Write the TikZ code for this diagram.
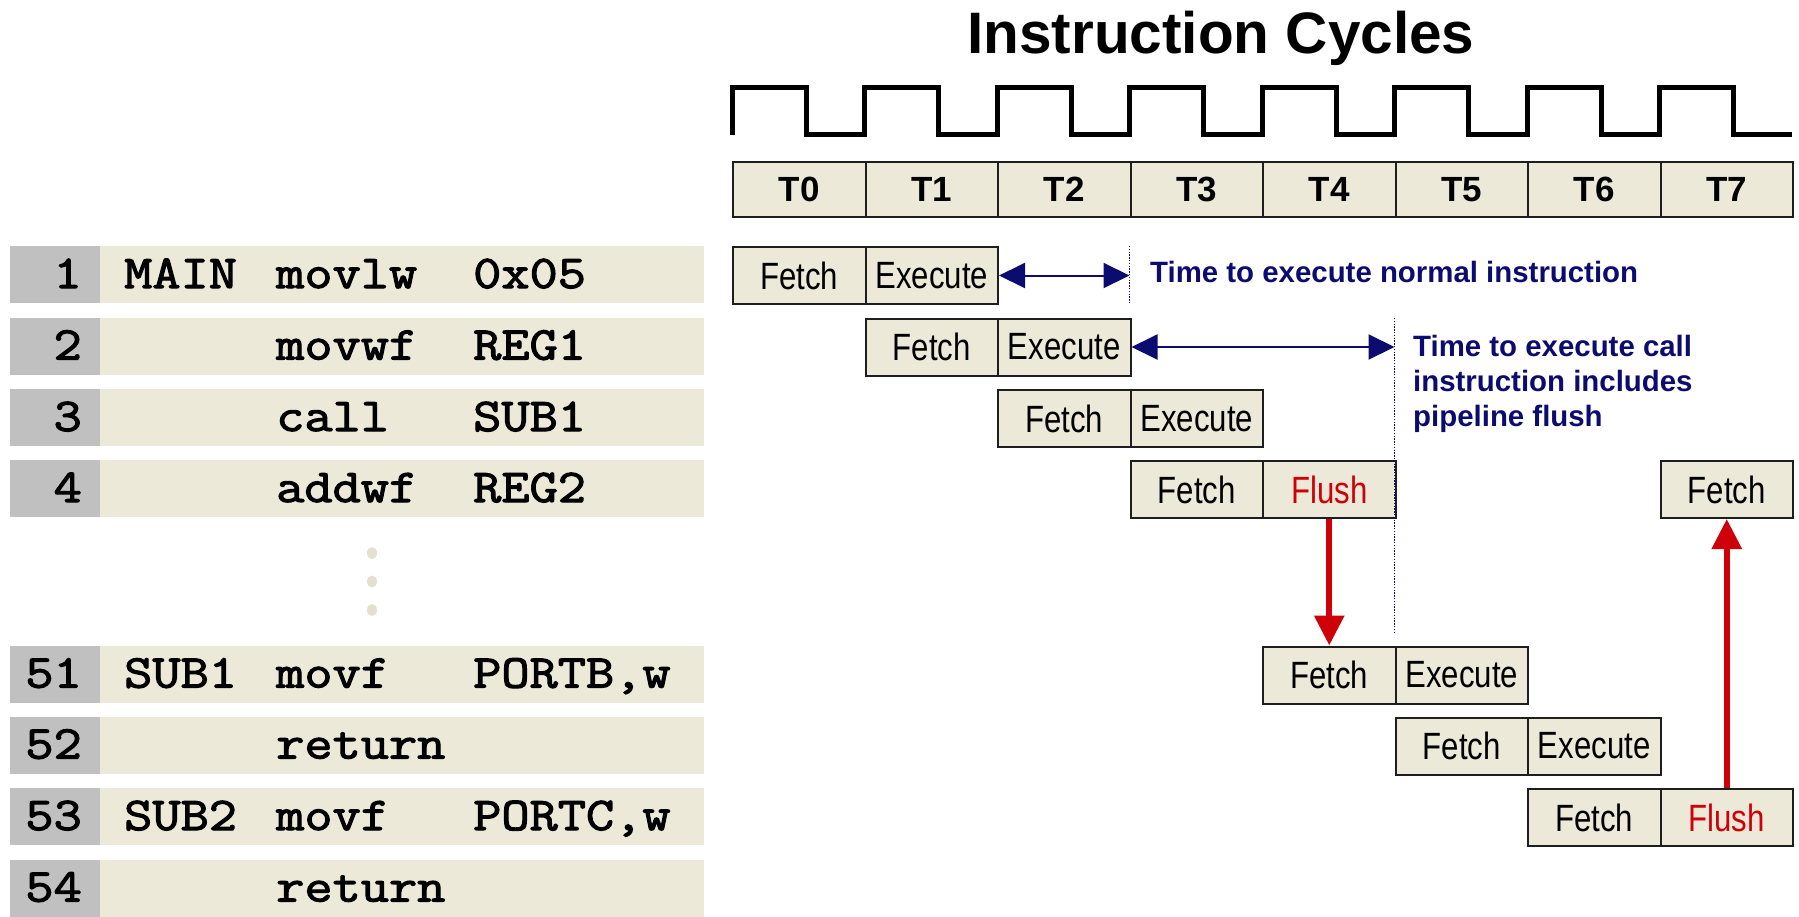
\documentclass[tikz,border=0pt]{standalone}
\usepackage{fontspec}
\setmainfont{Liberation Sans}
\newfontfamily\cellfont[FakeStretch=0.82]{Liberation Sans}
\newfontfamily\codefont[FakeBold=2.4,FakeStretch=1.165]{Latin Modern Mono}
\usetikzlibrary{arrows.meta}

\definecolor{beige}{RGB}{236,233,216}
\definecolor{linecol}{RGB}{192,192,192}
\definecolor{dotcol}{RGB}{228,224,206}
\definecolor{navy}{RGB}{12,12,112}
\definecolor{flushred}{RGB}{206,0,10}
\definecolor{edge}{RGB}{30,30,30}

\begin{document}
\begin{tikzpicture}[x=1pt,y=-1pt,
  cell/.style={draw=edge, line width=2pt, fill=beige, minimum width=132.5pt,
    minimum height=57pt, inner sep=0pt, anchor=north west,
    font=\cellfont\fontsize{38}{40}\selectfont},
  tcell/.style={cell, minimum height=55pt, font=\bfseries\fontsize{35}{38}\selectfont},
  flush/.style={cell, text=flushred},
  asm/.style={inner sep=0pt, font=\codefont\fontsize{47}{50}\selectfont},
  note/.style={inner sep=0pt, anchor=base west, text=navy,
    font=\bfseries\fontsize{29.4}{34}\selectfont},
  clock/.style={line width=5pt, line join=miter},
  span/.style={navy, line width=2pt, {Triangle[length=26pt,width=25pt]}-{Triangle[length=26pt,width=25pt]}},
  limit/.style={navy, line width=1.4pt, dash pattern=on 1.4pt off 1.4pt},
  jump/.style={flushred, line width=6pt, -{Triangle[length=30pt,width=29pt]}}
]
\useasboundingbox (0,0) rectangle (1799,916);

% title
\node[inner sep=0pt, anchor=base, font=\bfseries\fontsize{58.5}{62}\selectfont]
  (title) at (1221,53.3) {Instruction Cycles};

% clock waveform
\draw[clock] (732,134.5) \foreach \k in {0,...,7} {
  -- (732+\k*132.5,87.5) -- (806+\k*132.5,87.5)
  -- (806+\k*132.5,134.5) -- (864.5+\k*132.5,134.5) };

% cycle labels
\foreach \i in {0,...,7}
  \node[tcell] (t\i) at (732+\i*132.5,161) {T\i};

% program listing
\foreach \y in {246,317.5,389,460,645.5,716.5,788,859.5} {
  \fill[beige] (10,\y) rectangle (704,\y+57);
  \fill[linecol] (10,\y) rectangle (100,\y+57);
}
\node[asm, anchor=base east] (l1) at (82,288) {1};
\node[asm, anchor=base west] (lab1) at (124,288) {MAIN};
\node[asm, anchor=base west] (op1) at (276,288) {movlw};
\node[asm, anchor=base west] (arg1) at (473,288) {0x05};

\node[asm, anchor=base east] (l2) at (82,359.5) {2};
\node[asm, anchor=base west] (op2) at (276,359.5) {movwf};
\node[asm, anchor=base west] (arg2) at (473,359.5) {REG1};

\node[asm, anchor=base east] (l3) at (82,431) {3};
\node[asm, anchor=base west] (op3) at (276,431) {call};
\node[asm, anchor=base west] (arg3) at (473,431) {SUB1};

\node[asm, anchor=base east] (l4) at (82,502) {4};
\node[asm, anchor=base west] (op4) at (276,502) {addwf};
\node[asm, anchor=base west] (arg4) at (473,502) {REG2};

\fill[dotcol] (372,553) ellipse (5pt and 6pt);
\fill[dotcol] (372,581.5) ellipse (5pt and 6pt);
\fill[dotcol] (372,610) ellipse (5pt and 6pt);

\node[asm, anchor=base east] (l51) at (82,687.5) {51};
\node[asm, anchor=base west] (lab51) at (124,687.5) {SUB1};
\node[asm, anchor=base west] (op51) at (276,687.5) {movf};
\node[asm, anchor=base west] (arg51) at (473,687.5) {PORTB,w};

\node[asm, anchor=base east] (l52) at (82,758.5) {52};
\node[asm, anchor=base west] (op52) at (276,758.5) {return};

\node[asm, anchor=base east] (l53) at (82,830) {53};
\node[asm, anchor=base west] (lab53) at (124,830) {SUB2};
\node[asm, anchor=base west] (op53) at (276,830) {movf};
\node[asm, anchor=base west] (arg53) at (473,830) {PORTC,w};

\node[asm, anchor=base east] (l54) at (82,901.5) {54};
\node[asm, anchor=base west] (op54) at (276,901.5) {return};

% pipeline stages
\node[cell] (p1f) at (732,246) {Fetch};
\node[cell] (p1e) at (864.5,246) {Execute};
\node[cell] (p2f) at (864.5,317.5) {Fetch};
\node[cell] (p2e) at (997,317.5) {Execute};
\node[cell] (p3f) at (997,389) {Fetch};
\node[cell] (p3e) at (1129.5,389) {Execute};
\node[cell] (p4f) at (1129.5,460) {Fetch};
\node[flush] (p4x) at (1262,460) {Flush};
\node[cell] (p8f) at (1659.5,460) {Fetch};
\node[cell] (p5f) at (1262,645.5) {Fetch};
\node[cell] (p5e) at (1394.5,645.5) {Execute};
\node[cell] (p6f) at (1394.5,716.5) {Fetch};
\node[cell] (p6e) at (1527,716.5) {Execute};
\node[cell] (p7f) at (1527,788) {Fetch};
\node[flush] (p7x) at (1659.5,788) {Flush};

% timing limits
\coordinate (d1a) at (1129.5,246);
\coordinate (d1b) at (1129.5,303);
\coordinate (d2a) at (1394.5,318);
\coordinate (d2b) at (1394.5,632);
\draw[limit] (d1a) -- (d1b);
\draw[limit] (d2a) -- (d2b);
\draw[span] (p1e.east) -- (p1e.east -| d1a);
\draw[span] (p2e.east) -- (p2e.east -| d2a);

\node[note] (n1) at (1150,282) {Time to execute normal instruction};
\node[note] (n2a) at (1413,356) {Time to execute call};
\node[note] (n2b) at (1413,391) {instruction includes};
\node[note] (n2c) at (1413,426) {pipeline flush};

% branch and return jumps
\draw[jump] (p4x.south) -- (p5f.north);
\draw[jump] (p7x.north) -- (p8f.south);
\end{tikzpicture}
\end{document}
